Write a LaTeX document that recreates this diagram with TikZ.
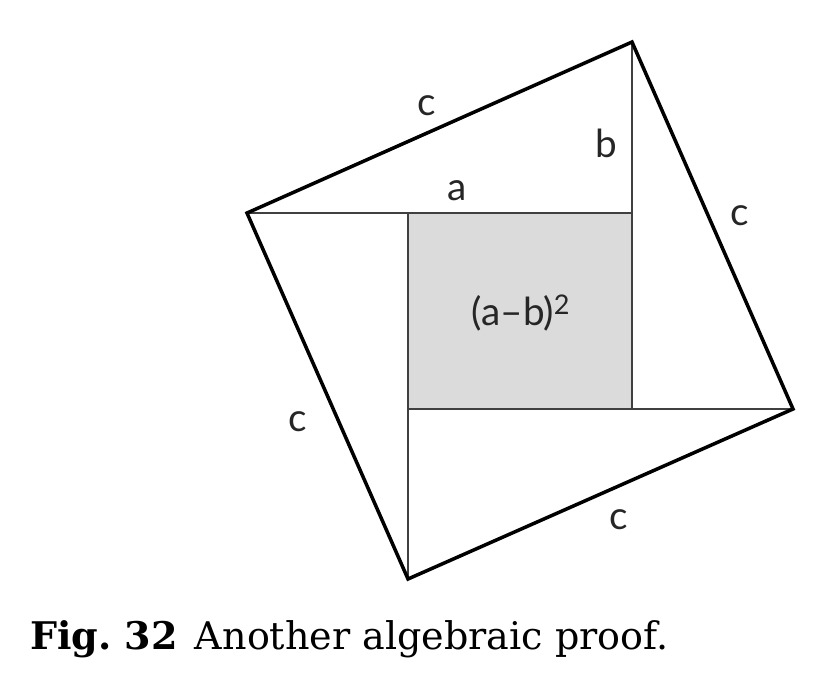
\documentclass[tikz,border=0pt]{standalone}
\usepackage{fontspec}
\setmainfont{DejaVu Serif}
\newfontfamily\lblfont{Lato}
\begin{document}
\begin{tikzpicture}[x=0.03cm,y=-0.03cm,
  hyp/.style={line width=3pt,black,line join=miter},
  leg/.style={line width=1.5pt,black!75},
  lbl/.style={font=\lblfont\fontsize{33}{36}\selectfont,inner sep=0pt,text=black!85},
  captext/.style={font=\fontsize{32.5}{38}\selectfont,inner sep=0pt,anchor=base west}]
\useasboundingbox (0,0) rectangle (824,690);
\coordinate (L) at (247,213);
\coordinate (T) at (632,42);
\coordinate (R) at (793,409);
\coordinate (B) at (408,579);
\coordinate (i1) at (408,213);
\coordinate (i2) at (632,213);
\coordinate (i3) at (632,409);
\coordinate (i4) at (408,409);
\fill[gray!28] (i1) rectangle (i3);
\draw[leg] (L) -- (i2) -- (T);
\draw[leg] (i2) -- (i3) -- (R);
\draw[leg] (i1) -- (i4);
\draw[leg] (i3) -- (i4) -- (B);
\draw[hyp] (L) -- (T) -- (R) -- (B) -- cycle;
\node[lbl] (c1) at (427,106) {c};
\node[lbl] (b) at (606,143) {b};
\node[lbl] (a) at (457,191) {a};
\node[lbl] (c2) at (740,216) {c};
\node[lbl] (sq) at (521,313) {(a–b)\textsuperscript{2}};
\node[lbl] (c3) at (298,422) {c};
\node[lbl] (c4) at (619,520) {c};
\node[captext] (caption) at (30,649) {\textbf{Fig.\ 32}\hspace{0.45em}Another algebraic proof.};
\end{tikzpicture}
\end{document}
